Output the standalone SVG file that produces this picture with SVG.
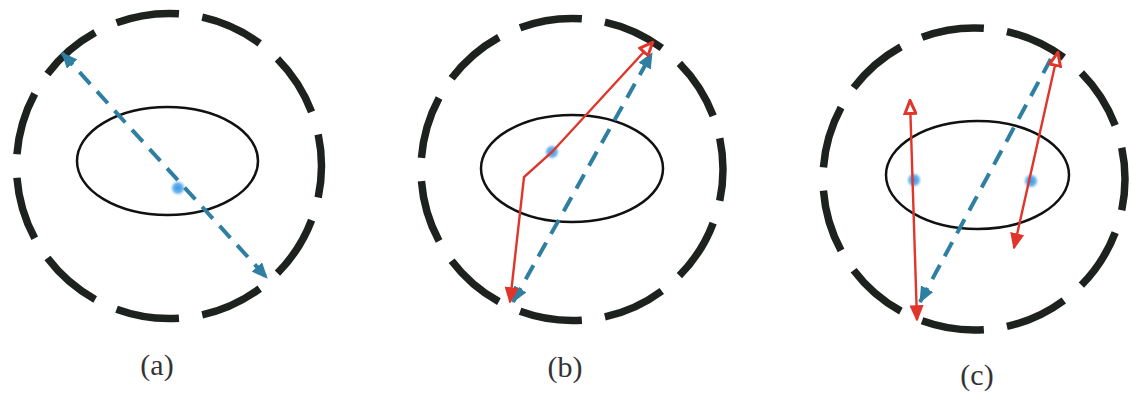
<svg xmlns="http://www.w3.org/2000/svg" width="1132" height="395" viewBox="0 0 1132 395">
<style>
.outer{fill:none;stroke:#1e221f;stroke-width:7.5;stroke-dasharray:73 27;stroke-dashoffset:36.5}
.inner{fill:none;stroke:#111;stroke-width:2.5}
.blue{fill:none;stroke:#2f7fa3;stroke-width:4;stroke-dasharray:16 10}
.red{fill:none;stroke:#e0352b;stroke-width:2.4}
.lbl{font-family:"Liberation Serif",serif;font-size:30px;fill:#333;text-anchor:middle}
</style>
<defs>
<radialGradient id="dot">
<stop offset="0" stop-color="#3d97e6"/>
<stop offset="0.55" stop-color="#6bb4ef"/>
<stop offset="1" stop-color="#a9d4f6" stop-opacity="0"/>
</radialGradient>
<marker id="bA" markerUnits="userSpaceOnUse" viewBox="0 0 16 14" refX="15" refY="7" markerWidth="16" markerHeight="14" orient="auto-start-reverse">
<path d="M0,0 L16,7 L0,14 z" fill="#2f7fa3"/>
</marker>
<marker id="rF" markerUnits="userSpaceOnUse" viewBox="0 0 16 14" refX="15" refY="7" markerWidth="16" markerHeight="14" orient="auto-start-reverse">
<path d="M1,1 L15,7 L1,13 z" fill="#e0352b" stroke="#e0352b" stroke-width="1.5"/>
</marker>
<marker id="rO" markerUnits="userSpaceOnUse" viewBox="0 0 16 14" refX="15" refY="7" markerWidth="16" markerHeight="14" orient="auto-start-reverse">
<path d="M1.5,1.5 L14.5,7 L1.5,12.5 z" fill="#fff" stroke="#e0352b" stroke-width="3"/>
</marker>
</defs>
<rect width="1132" height="395" fill="#fff"/>
<g id="panel-a">
<circle class="outer" cx="169" cy="166" r="152.5" pathLength="1100"/>
<ellipse class="inner" cx="167.5" cy="161" rx="90.5" ry="54"/>
<circle cx="178" cy="188" r="8" fill="url(#dot)"/>
</g>
<g id="panel-b">
<circle class="outer" cx="572" cy="169.5" r="151" pathLength="1100"/>
<ellipse class="inner" cx="572" cy="168.5" rx="91" ry="53.5"/>
<circle cx="552" cy="152" r="8" fill="url(#dot)"/>
</g>
<g id="panel-c">
<circle class="outer" cx="974" cy="179" r="151" pathLength="1100"/>
<ellipse class="inner" cx="977.5" cy="175" rx="91.5" ry="54"/>
<circle cx="914" cy="180" r="8" fill="url(#dot)"/>
<circle cx="1031" cy="181" r="8" fill="url(#dot)"/>
</g>
<g id="connectors">
<path class="blue" d="M62,53 L267,278" marker-start="url(#bA)" marker-end="url(#bA)"/>
<path class="blue" d="M513,302 L652,53" marker-start="url(#bA)" marker-end="url(#bA)"/>
<path class="red" d="M510,302 L524,177 L552,152 L653,42" marker-start="url(#rF)" marker-end="url(#rO)"/>
<path class="blue" d="M920,302 L1053,55" marker-start="url(#bA)"/>
<path class="red" d="M917,320 L910,100" marker-start="url(#rF)" marker-end="url(#rO)"/>
<path class="red" d="M1014,248 L1058,52" marker-start="url(#rF)" marker-end="url(#rO)"/>
</g>
<g id="labels">
<text class="lbl" x="157" y="375">(a)</text>
<text class="lbl" x="565" y="377">(b)</text>
<text class="lbl" x="977" y="385">(c)</text>
</g>
</svg>
